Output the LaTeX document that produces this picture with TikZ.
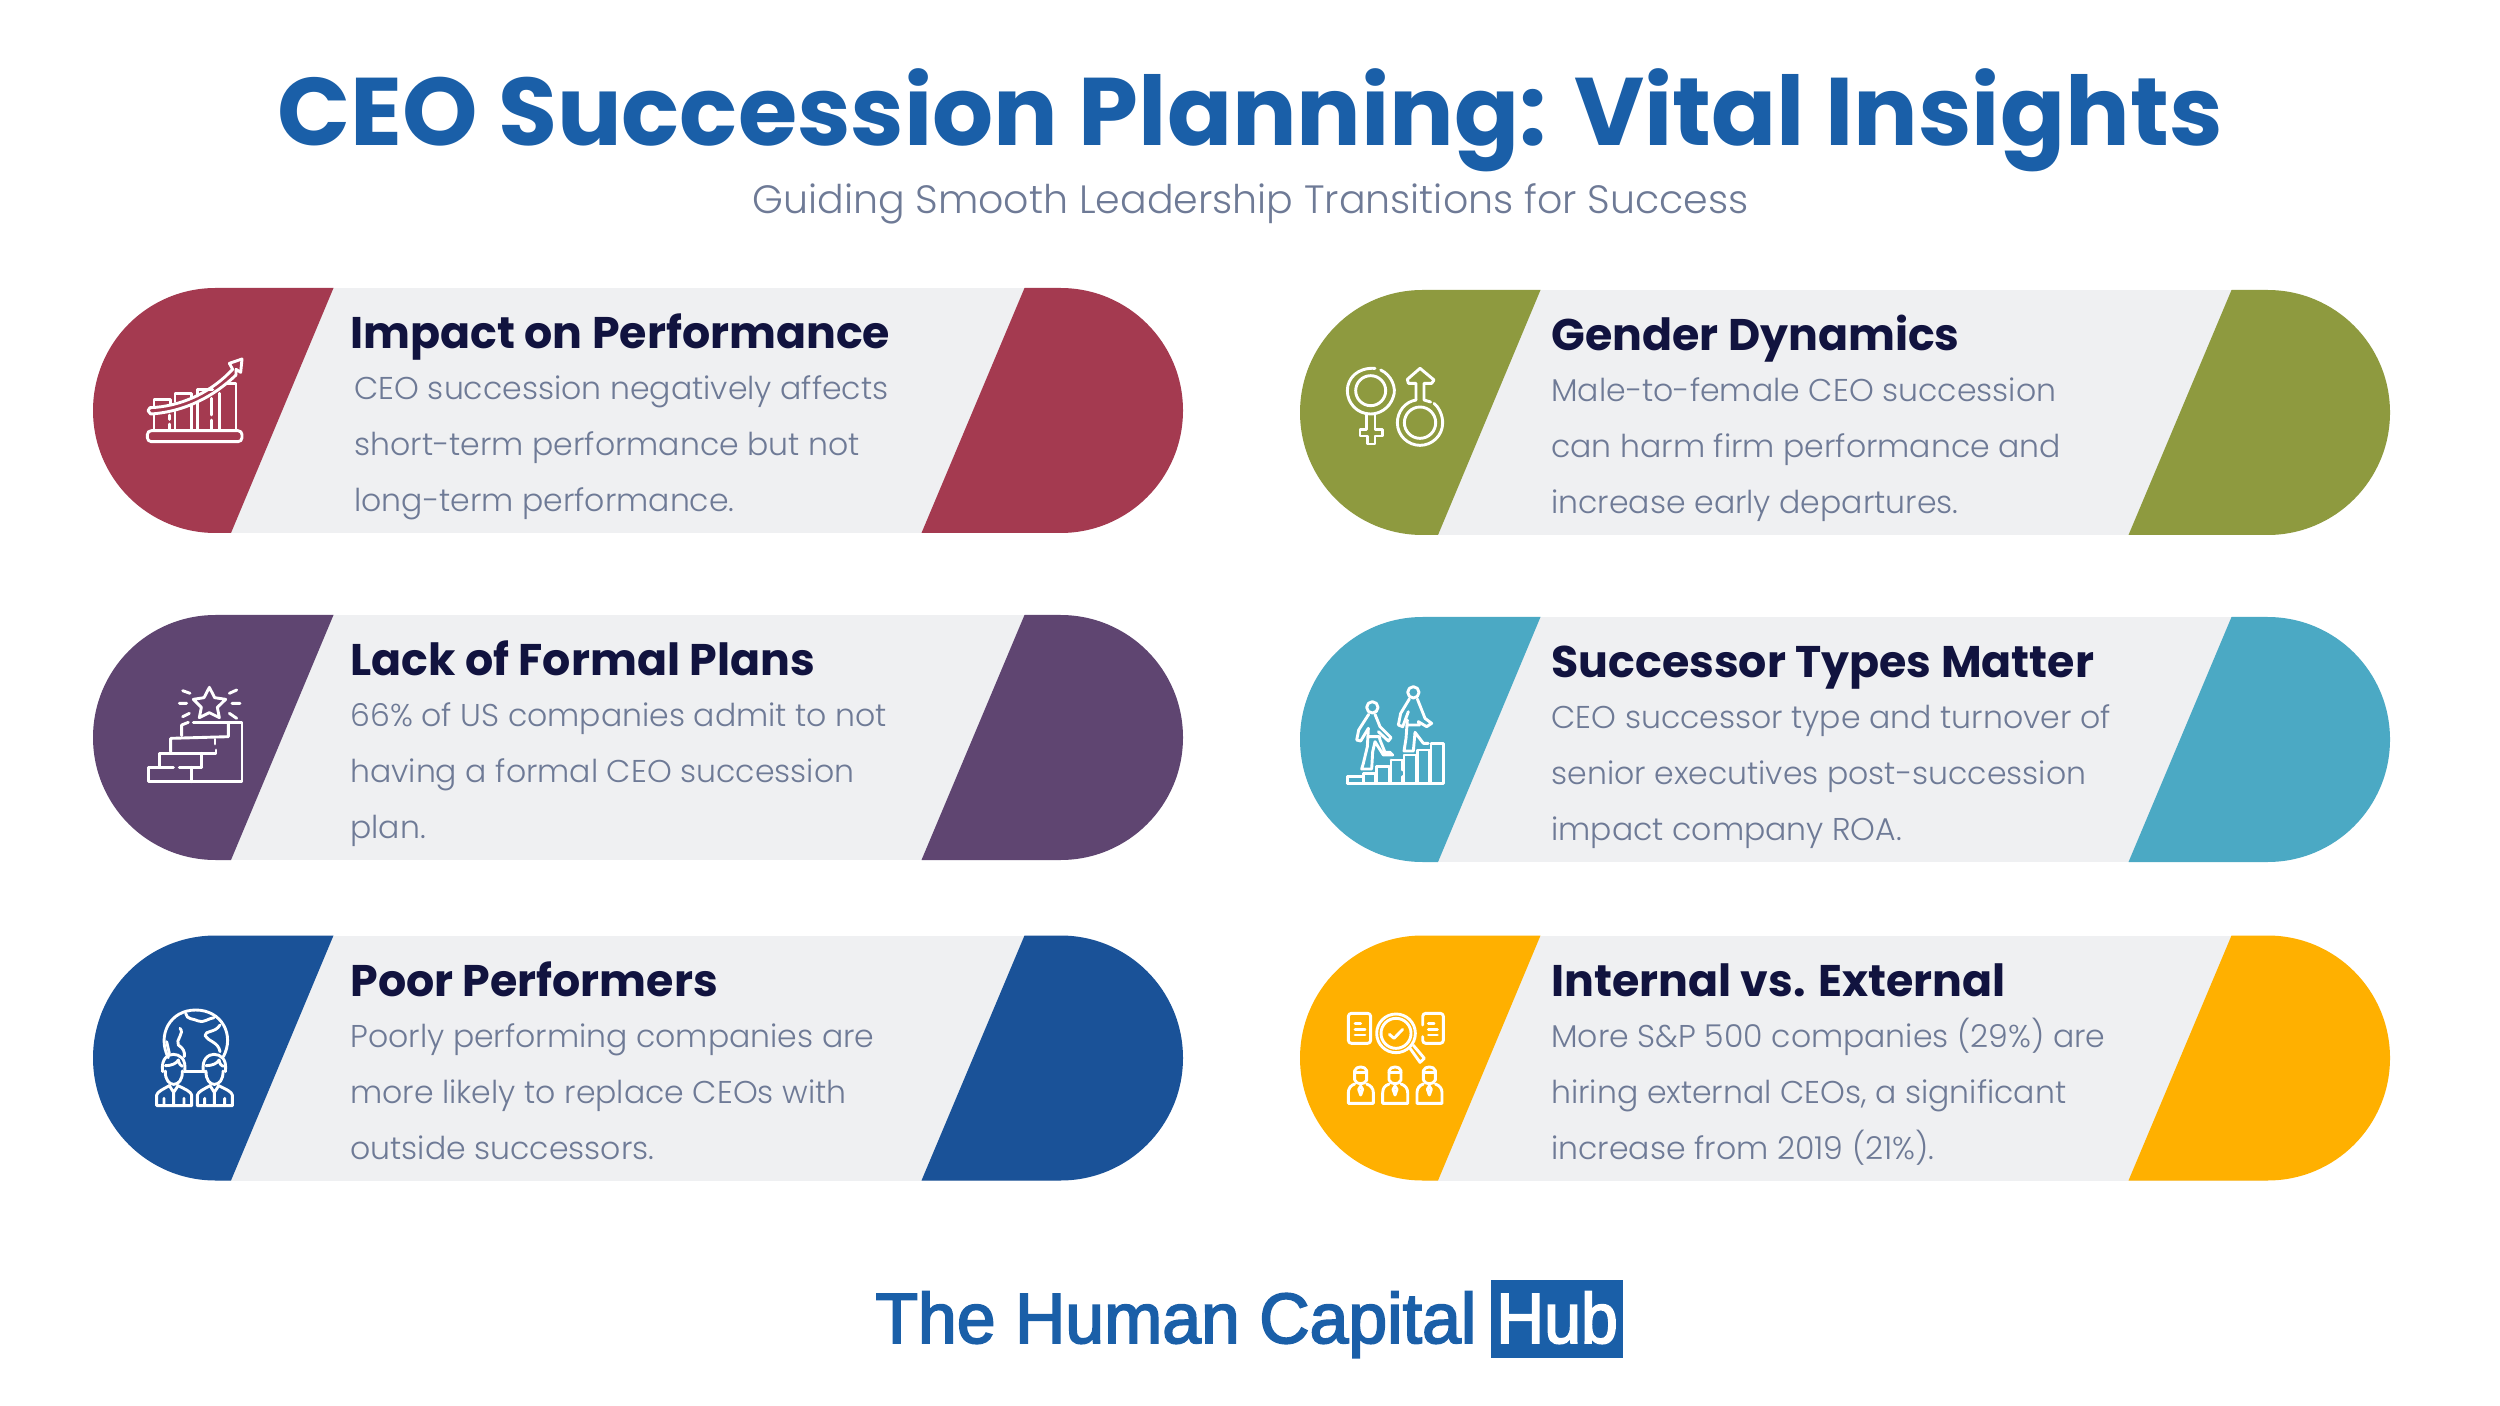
\documentclass[tikz,border=0pt]{standalone}
\usepackage{fontspec}
\setmainfont{Poppins}
\newfontfamily\bodyf{Poppins}[UprightFont=* Light]
\newfontfamily\headf{Poppins}[UprightFont=* Bold]
\newfontfamily\logof{Liberation Sans}[FakeStretch=0.98,FakeBold=2.5]
\newfontfamily\hubf{Liberation Sans}[FakeStretch=0.93,FakeBold=2.5]
\definecolor{maroon}{HTML}{A43A50}
\definecolor{plum}{HTML}{5F4571}
\definecolor{navy}{HTML}{1A5298}
\definecolor{olive}{HTML}{8E9A3F}
\definecolor{teal2}{HTML}{4BA9C4}
\definecolor{amber}{HTML}{FFB000}
\definecolor{cardbg}{HTML}{EFF0F2}
\definecolor{ink}{HTML}{11133F}
\definecolor{headblue}{HTML}{1A5FA8}
\definecolor{bodygrey}{HTML}{6E7A96}
\tikzset{
 cardtitle/.style={anchor=base west,inner sep=0pt,text=ink,font=\headf\fontsize{22.15}{22.15}\selectfont},
 cardbody/.style={anchor=base west,inner sep=0pt,text=bodygrey,font=\bodyf\fontsize{15.75}{15.75}\selectfont},
 ic/.style={draw=white,line width=1.45pt,line cap=round,line join=round},
}
\def\titlex{257}
\newcommand{\cardbase}[9]{%
 \begin{scope}[shift={(#2,#3)}]
  \fill[cardbg] (122.5,0) rectangle (967.5,245);
  \fill[#4] (122.5,0)--(240.5,0)--(138,245)--(122.5,245) .. controls (54.8,245) and (0,190.2) .. (0,122.5) .. controls (0,54.8) and (54.8,0) .. (122.5,0) -- cycle;
  \fill[#4] (931.5,0)--(967.5,0) .. controls (1035.2,0) and (1090,54.8) .. (1090,122.5) .. controls (1090,190.2) and (1035.2,245) .. (967.5,245) -- (828.5,245) -- cycle;
  \node[cardtitle] (#1t) at (\titlex,60.5) {#6};
  \node[cardbody] (#1a) at (#5,111.5) {#7};
  \node[cardbody] (#1b) at (#5,167.5) {#8};
  \node[cardbody] (#1c) at (#5,223.5) {#9};
 \end{scope}}
\begin{document}
\begin{tikzpicture}[x=0.5pt,y=-0.5pt]
\useasboundingbox (0,0) rectangle (2500,1406);
\fill[white] (0,0) rectangle (2500,1406);
\node[anchor=base,inner sep=0pt,text=headblue,font=\headf\fontsize{48}{48}\selectfont] (head) at (1250,146) {CEO Succession Planning: Vital Insights};
\node[anchor=base,inner sep=0pt,text=bodygrey,font=\bodyf\fontsize{19.75}{19.75}\selectfont] (sub) at (1250.5,213.5) {Guiding Smooth Leadership Transitions for Success};
\cardbase{c1}{93}{288}{maroon}{261}{Impact on Performance}{CEO succession negatively affects}{short-term performance but not}{long-term performance.}
\cardbase{c2}{93}{615}{plum}{257}{Lack of Formal Plans}{66\% of US companies admit to not}{having a formal CEO succession}{plan.}
\cardbase{c3}{93}{935.5}{navy}{257}{Poor Performers}{Poorly performing companies are}{more likely to replace CEOs with}{outside successors.}
\def\titlex{251}
\cardbase{c4}{1300}{290}{olive}{251}{Gender Dynamics}{Male-to-female CEO succession}{can harm firm performance and}{increase early departures.}
\cardbase{c5}{1300}{617}{teal2}{251}{Successor Types Matter}{CEO successor type and turnover of}{senior executives post-succession}{impact company ROA.}
\cardbase{c6}{1300}{935.5}{amber}{251}{Internal vs. External}{More S\&P 500 companies (29\%) are}{hiring external CEOs, a significant}{increase from 2019 (21\%).}
% icon 1
\begin{scope}[shift={(130,340)},x=0.1667pt,y=-0.1667pt]
 \draw[ic,rounded corners=2pt] (52,272) rectangle (336,305);
 \draw[ic] (72,225)--(72,270) (72,200)--(72,178)--(122,178)--(122,192) (118,225)--(118,238) (118,252)--(118,270);
 \draw[ic] (135,270)--(135,215) (135,185)--(135,160)--(185,160)--(185,172) (185,195)--(185,270);
 \draw[ic] (203,270)--(203,188) (203,168)--(203,148)--(248,148) (245,175)--(245,225) (245,240)--(245,270);
 \draw[ic] (268,270)--(268,160) (290,130)--(318,130)--(318,270);
 \draw[ic] (60,203) .. controls (150,200) and (235,160) .. (296,100);
 \draw[ic] (60,203) -- (54,212) -- (62,222) .. controls (165,215) and (250,170) .. (318,105);
 \draw[ic] (296,100)--(308,88)--(298,70)--(336,57)--(332,97)--(318,88)--(318,105);
\end{scope}
% icon 2
\begin{scope}[shift={(130,670)},x=0.1667pt,y=-0.1667pt]
 \draw[ic] (238,52)--(254,83)--(287,88)--(262,112)--(268,143)--(238,128)--(208,143)--(214,112)--(190,88)--(222,83)--cycle;
 \draw[ic] (158,62)--(180,70) (148,100)--(170,100) (158,140)--(178,130) (298,70)--(320,60) (306,100)--(330,100) (298,130)--(320,145);
 \draw[ic] (190,157)--(336,157)--(336,335)--(55,335)--(55,292)--(130,292);
 \draw[ic] (155,197)--(155,165)--(175,157);
 \draw[ic] (148,292)--(215,292) (215,292)--(215,250);
 \draw[ic] (88,290)--(88,250)--(258,250)--(258,240);
 \draw[ic] (122,245)--(122,205)--(295,200)--(295,157);
 \draw[ic] (255,208)--(255,222);
 \draw[ic] (185,292)--(185,335);
\end{scope}
% icon 3
\begin{scope}[shift={(140,995)},x=0.1667pt,y=-0.1667pt]
 \draw[ic] (85,188) .. controls (50,120) and (90,45) .. (167,45) .. controls (245,45) and (285,120) .. (250,185);
 \draw[ic] (137,55) .. controls (140,75) and (160,70) .. (175,78) .. controls (190,85) and (205,70) .. (222,68);
 \draw[ic] (120,100) .. controls (135,115) and (105,135) .. (115,150) .. controls (130,160) and (135,170) .. (133,185);
 \draw[ic] (80,140) -- (88,175);
 \draw[ic] (240,90) .. controls (225,115) and (195,105) .. (195,122) .. controls (205,140) and (235,140) .. (240,170);
 \draw[ic] (135,230)--(195,230);
 \foreach \d in {0,122}{
  \begin{scope}[xshift=\d*0.1667pt]
  \draw[ic] (68,230) .. controls (62,190) and (85,178) .. (100,178) .. controls (118,178) and (140,190) .. (134,230);
  \draw[ic] (76,228) .. controls (75,255) and (88,268) .. (101,268) .. controls (115,268) and (128,255) .. (127,228);
  \draw[ic] (76,212) .. controls (95,212) and (110,205) .. (115,195) .. controls (118,208) and (122,212) .. (127,214);
  \draw[ic] (50,332)--(50,300) .. controls (52,290) and (70,282) .. (88,272) (114,272) .. controls (135,282) and (153,290) .. (155,300)--(155,332)--(50,332);
  \draw[ic] (88,272)--(101,292)--(114,272) (101,292)--(101,332) (72,332)--(72,310) (132,332)--(132,310);
  \end{scope}}
\end{scope}
% icon 4
\begin{scope}[shift={(1330,350)},x=0.1667pt,y=-0.1667pt]
 \draw[ic] (152,60) .. controls (185,75) and (200,115) .. (190,140) .. controls (178,178) and (145,192) .. (122,192) .. controls (80,192) and (52,158) .. (52,122) .. controls (52,85) and (82,52) .. (135,55);
 \draw[ic] (122,122) circle[x radius=45,y radius=-45];
 \draw[ic] (110,190)--(110,238)--(90,238)--(90,258)--(112,258)--(112,282)--(135,282)--(135,258)--(157,258)--(157,238)--(135,238)--(135,190);
 \draw[ic] (258,150)--(258,100)--(235,100)--(232,88)--(270,55)--(312,90)--(305,100)--(282,100)--(282,150)--(302,156);
 \draw[ic] (258,150) .. controls (225,155) and (202,185) .. (202,218) .. controls (202,258) and (235,286) .. (270,286) .. controls (305,286) and (338,258) .. (338,218) .. controls (338,195) and (325,170) .. (312,160);
 \draw[ic] (270,218) circle[x radius=47,y radius=-47];
\end{scope}
% icon 5
\begin{scope}[shift={(1330,675)},x=0.1667pt,y=-0.1667pt]
 \draw[ic] (52,325)--(340,325)--(340,205)--(303,205)--(303,325) (52,325)--(52,305)--(95,305) (100,325)--(100,295)--(135,295)--(135,325) (140,325)--(140,275)--(178,275)--(178,325) (183,255)--(218,255)--(218,285) (218,305)--(218,325) (183,325)--(183,255) (222,325)--(222,240)--(258,240)--(258,325) (263,325)--(263,225)--(298,225)--(298,325);
 \draw[ic] (127,97) circle[x radius=17,y radius=-17];
 \draw[ic] (250,52) circle[x radius=17,y radius=-17];
 \draw[ic] (116,118)--(86,165)--(80,195)--(92,198)--(115,160) (135,118)--(150,155)--(183,188)--(175,198)--(145,170);
 \draw[ic] (115,160)--(112,215)--(100,265)--(95,282)--(125,282)--(128,230)--(135,200)--(160,240)--(188,240)--(180,232)--(165,232)--(150,195)--(148,185)--(115,185);
 \draw[ic] (238,72)--(212,115)--(205,150)--(218,155)--(235,110) (262,72)--(285,130)--(305,145)--(290,155)--(265,140);
 \draw[ic] (232,135)--(228,190)--(222,228)--(250,228)--(255,172)--(280,205)--(295,205) (265,140)--(268,150)--(230,150);
\end{scope}
% icon 6
\begin{scope}[shift={(1330,1000)},x=0.1667pt,y=-0.1667pt]
 \draw[ic,rounded corners=1.5pt] (55,40) rectangle (122,130);
 \draw[ic] (75,70)--(92,70) (75,88)--(105,88) (75,105)--(105,105);
 \draw[ic,rounded corners=1.5pt] (278,75)--(278,40)--(340,40)--(340,130)--(278,130)--(278,110);
 \draw[ic] (295,70)--(312,70) (295,88)--(322,88) (295,105)--(322,105);
 \draw[ic] (198,100) circle[x radius=58,y radius=-58];
 \draw[ic] (198,100) circle[x radius=45,y radius=-45];
 \draw[ic] (178,103)--(192,115)--(218,88);
 \draw[ic] (240,145)--(270,187)--(283,175)--(250,136);
 \foreach \d in {0,103,206}{
  \begin{scope}[xshift=\d*0.1667pt]
  \draw[ic] (74,240)--(74,212) .. controls (78,197) and (106,197) .. (110,212)--(110,240) .. controls (104,255) and (80,255) .. (74,240);
  \draw[ic] (74,218)--(110,218);
  \draw[ic] (74,252) .. controls (62,256) and (55,265) .. (55,278)--(55,310)--(130,310)--(130,278) .. controls (130,265) and (122,256) .. (110,252);
  \draw[ic] (92,258)--(86,268)--(92,285)--(98,268)--(92,258);
  \end{scope}}
\end{scope}
% logo
\node[anchor=base west,inner sep=0pt,text=headblue,font=\logof\fontsize{35.6}{35.6}\selectfont] (logoa) at (875,1343) {The Human Capital};
\fill[headblue] (1491,1280) rectangle (1623,1358);
\node[anchor=base west,inner sep=0pt,text=white,font=\hubf\fontsize{35.6}{35.6}\selectfont] (logob) at (1496,1343) {Hub};
\end{tikzpicture}
\end{document}
